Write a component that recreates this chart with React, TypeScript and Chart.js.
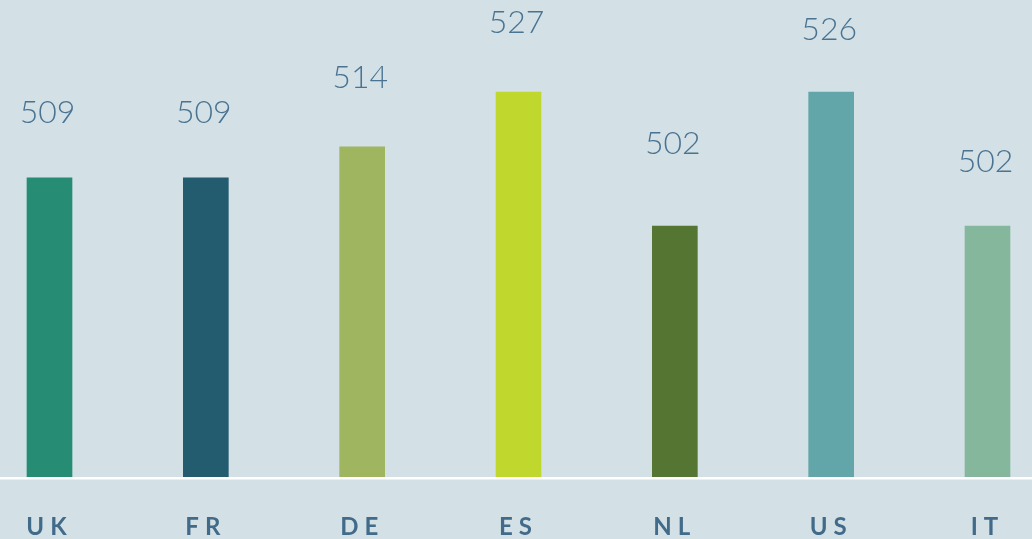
import React, { useEffect, useRef } from "react";
import { Chart, registerables } from "chart.js";

Chart.register(...registerables);

const countries = ["UK", "FR", "DE", "ES", "NL", "US", "IT"];
const scores = [509, 509, 514, 527, 502, 526, 502];
// bar lengths as drawn (share of plot height, %)
const barLevels = [62.7, 62.7, 69.2, 80.7, 52.6, 80.7, 52.6];
// score label baselines as drawn (share of plot height, %)
const labelLevels = [74.2, 74.2, 81.5, 93.0, 67.7, 91.6, 64.0];
const barColors = ["#268c74", "#235b6f", "#a0b55f", "#c0d72e", "#557632", "#62a6a9", "#85b79d"];

const BG = "#d3e1e7";
const TEXT = "#4a7391";
const AXIS_TEXT = "#426b8a";

const textPlugin = {
  id: "infoText",
  beforeDraw(chart: any) {
    const { ctx, width, height } = chart;
    ctx.save();
    ctx.fillStyle = BG;
    ctx.fillRect(0, 0, width, height);
    ctx.restore();
  },
  afterDraw(chart: any) {
    const { ctx, width } = chart;
    const x = chart.scales.x;
    const y = chart.scales.y;
    const base = y.getPixelForValue(0);
    ctx.save();
    ctx.fillStyle = "#ffffff";
    ctx.fillRect(0, base, width, 2.5);

    ctx.fillStyle = TEXT;
    ctx.font = "300 32px Lato";
    ctx.textAlign = "center";
    ctx.textBaseline = "alphabetic";
    scores.forEach((s, i) => {
      ctx.fillText(String(s), x.getPixelForValue(i) - 2, y.getPixelForValue(labelLevels[i]));
    });

    ctx.fillStyle = AXIS_TEXT;
    ctx.font = "bold 24px Lato";
    (ctx as any).letterSpacing = "6px";
    countries.forEach((c, i) => {
      ctx.fillText(c, x.getPixelForValue(i), base + 58);
    });
    ctx.restore();
  },
};

export default function App() {
  const ref = useRef<HTMLCanvasElement>(null);
  useEffect(() => {
    document.body.style.margin = "0";
    document.body.style.background = BG;
    const chart = new Chart(ref.current!, {
      type: "bar",
      data: {
        labels: countries,
        datasets: [
          {
            data: barLevels,
            backgroundColor: barColors,
            barThickness: 45,
            clip: false as any,
          },
        ],
      },
      options: {
        responsive: false,
        animation: false,
        layout: { padding: { left: 49.5, right: 44.5, top: 0, bottom: 62 } },
        plugins: { legend: { display: false }, tooltip: { enabled: false } },
        scales: {
          x: { offset: false, display: false, grid: { display: false } },
          y: { display: false, min: 0, max: 100, grid: { display: false } },
        },
      },
      plugins: [textPlugin],
    });
    return () => chart.destroy();
  }, []);
  return (
    <div style={{ position: "fixed", left: 0, top: 0, width: 1032, height: 539, background: BG }}>
      <canvas ref={ref} width={1032} height={539} style={{ display: "block" }} />
    </div>
  );
}
